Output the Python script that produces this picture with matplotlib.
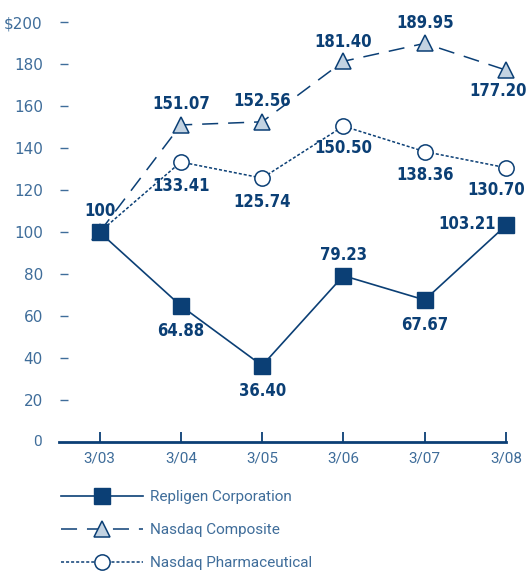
import numpy as np
import matplotlib.pyplot as plt
from matplotlib.lines import Line2D

years = ['3/03', '3/04', '3/05', '3/06', '3/07', '3/08']
repligen = [100, 64.88, 36.40, 79.23, 67.67, 103.21]
composite = [100, 151.07, 152.56, 181.40, 189.95, 177.20]
pharma = [100, 133.41, 125.74, 150.50, 138.36, 130.70]
yticks = [20, 40, 60, 80, 100, 120, 140, 160, 180, 200]
ytick_labels = ['20', '40', '60', '80', '100', '120', '140', '160', '180', '$200']

# where each value label goes: (dx, dy) in points
repligen_offs = [(0, 15), (0, -18), (0, -18), (0, 15), (0, -18), (-28, 1)]
composite_offs = [None, (0, 15), (0, 15), (0, 14), (0, 15), (-6, -15)]
pharma_offs = [None, (0, -17), (0, -17), (0, -16), (0, -17), (-7, -16)]

NAVY = '#0b3f75'
TEXT = '#3f6d9a'
TRI_FILL = '#c3d3e2'
tick_font = {'family': 'Roboto', 'weight': 'normal'}

fig = plt.figure(figsize=(5.26, 5.71), dpi=100)
ax = fig.add_axes([0.112, 0.226, 0.850, 0.735])

x = np.arange(len(years))

ax.plot(x, pharma, color=NAVY, lw=1.1, dashes=(2, 1.3), marker='o', ms=11,
        mfc='white', mec=NAVY, mew=1.1, clip_on=False, zorder=3)
ax.plot(x, composite, color=NAVY, lw=1.1, dashes=(10.5, 6.5), marker='^', ms=12,
        mfc=TRI_FILL, mec=NAVY, mew=1.1, clip_on=False, zorder=3)
ax.plot(x, repligen, color=NAVY, lw=1.2, marker='s', ms=11.5,
        mfc=NAVY, mec=NAVY, clip_on=False, zorder=4)

def put_labels(vals, offs):
    for i, (v, o) in enumerate(zip(vals, offs)):
        if o is None:
            continue
        ax.annotate(f'{v:.2f}' if v != 100 else '100', (i, v), xytext=o,
                    textcoords='offset points', ha='center', va='center',
                    fontsize=12, fontweight='bold', fontstretch='condensed',
                    color=NAVY, family='DejaVu Sans', annotation_clip=False)

put_labels(repligen, repligen_offs)
put_labels(composite, composite_offs)
put_labels(pharma, pharma_offs)

ax.set_xlim(-0.5, 5)
ax.set_ylim(0, 200)
ax.set_xticks(x)
ax.set_xticklabels(years, **tick_font)
ax.set_yticks(yticks)
ax.set_yticklabels(ytick_labels, **tick_font)
ax.annotate('0', (-0.5, 0), xytext=(-12, 0), textcoords='offset points',
            ha='right', va='center', fontsize=11, color=TEXT,
            annotation_clip=False, **tick_font)

for s in ['top', 'right']:
    ax.spines[s].set_visible(False)
ax.spines['left'].set_visible(False)
ax.spines['left'].set_position(('data', -0.39))
ax.spines['bottom'].set_color(NAVY)
ax.spines['bottom'].set_linewidth(2)

ax.tick_params(axis='y', direction='out', length=6, width=1, color=TEXT,
               labelcolor=TEXT, labelsize=11, pad=12)
ax.tick_params(axis='x', direction='in', length=7.5, width=1.3, color=NAVY,
               labelcolor=TEXT, labelsize=11, pad=7)

handles = [
    Line2D([], [], color=NAVY, lw=1.2, marker='s', ms=11.5, mfc=NAVY, mec=NAVY),
    Line2D([], [], color=NAVY, lw=1.1, dashes=(10.5, 6.5), marker='^', ms=12,
           mfc=TRI_FILL, mec=NAVY, mew=1.1),
    Line2D([], [], color=NAVY, lw=1.1, dashes=(2, 1.3), marker='o', ms=11,
           mfc='white', mec=NAVY, mew=1.1),
]
names = ['Repligen Corporation', 'Nasdaq Composite', 'Nasdaq Pharmaceutical']
leg = fig.legend(handles, names, loc='upper left', bbox_to_anchor=(0.104, 0.152),
                 frameon=False, handlelength=5.35, handletextpad=0.5,
                 labelspacing=1.24, borderaxespad=0,
                 prop={'size': 11, **tick_font})
for t in leg.get_texts():
    t.set_color(TEXT)

fig.savefig('out.png', dpi=100)
